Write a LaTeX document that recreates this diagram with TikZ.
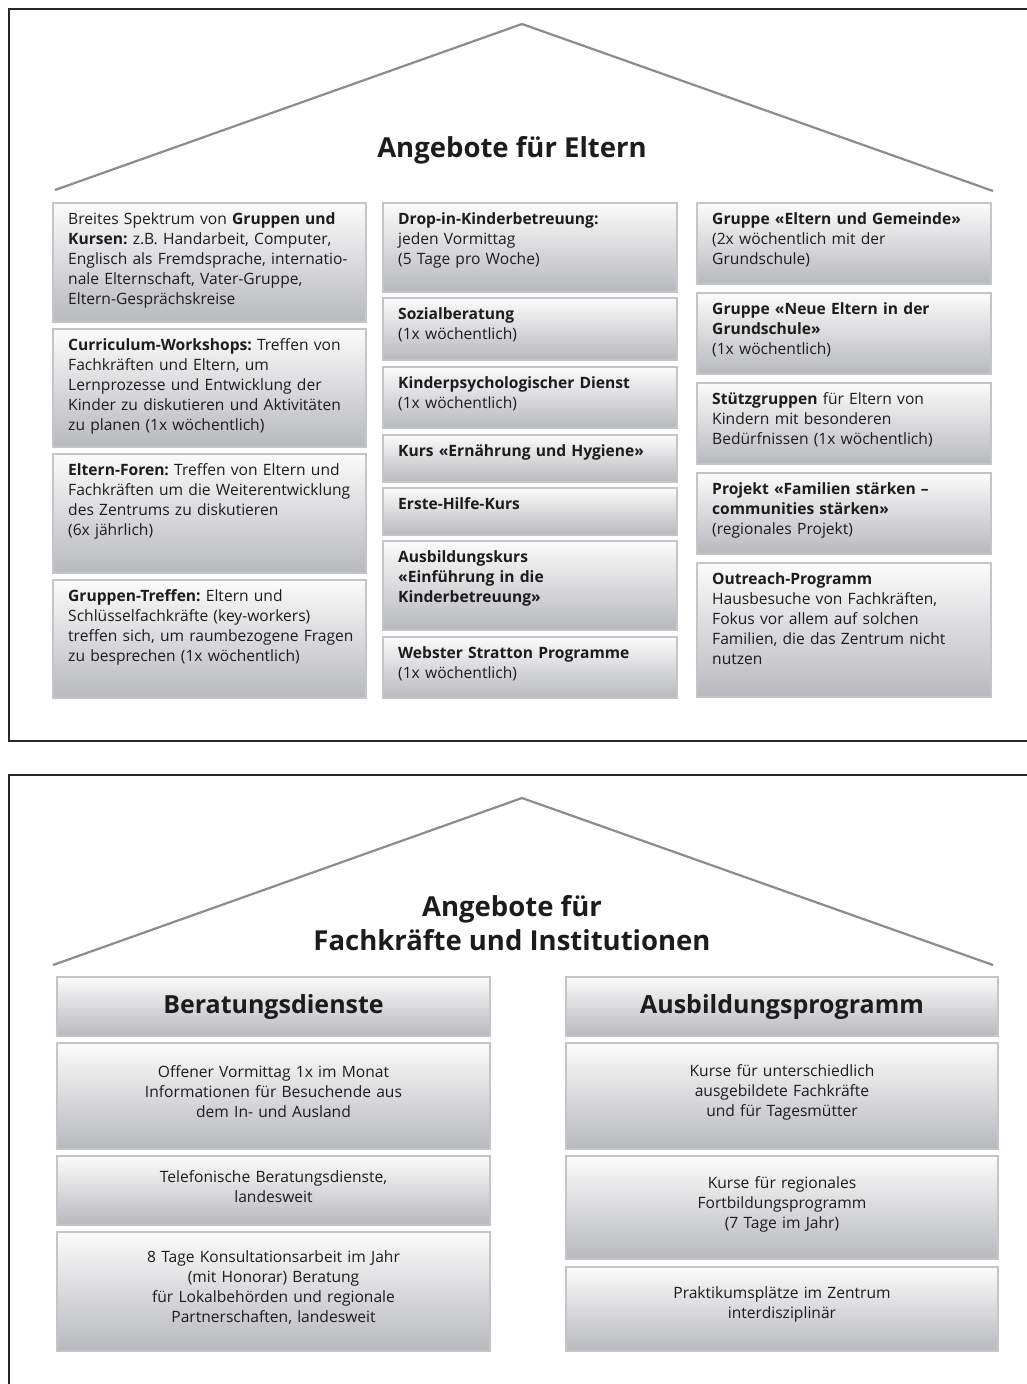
\documentclass[tikz,border=0pt]{standalone}
\usepackage{fontspec}
\setmainfont{Open Sans}
\definecolor{framecol}{RGB}{40,40,40}
\definecolor{roofcol}{RGB}{140,140,142}
\definecolor{boxborder}{RGB}{196,197,200}
\definecolor{boxtop}{RGB}{251,251,251}
\definecolor{boxbot}{RGB}{184,185,189}
\definecolor{txt}{RGB}{30,27,28}
\newcommand\bodyfont{\fontsize{15.6}{20}\selectfont\frenchspacing}
% box with top-left text
\newcommand\lbox[6]{%
  \node[gbox, anchor=north west, minimum width={#4-#2}, minimum height={#5-#3}] (#1) at (#2,#3) {};
  \node[ltext, text width={#4-#2-20}] (#1t) at (#2+15,#3+5) {\rule{0pt}{16pt}#6};}
% box with centred text; #6 = first baseline
\newcommand\cbox[7]{%
  \node[gbox, anchor=north west, minimum width={#4-#2}, minimum height={#5-#3}] (#1) at (#2,#3) {};
  \node[ctext, text width={#4-#2-30}] (#1t) at ({(#2+#4)/2},#6-16) {\rule{0pt}{16pt}#7};}
\begin{document}
\begin{tikzpicture}[x=1pt,y=-1pt,
  gbox/.style={draw=boxborder, line width=1.5pt, top color=boxtop, bottom color=boxbot, inner sep=0pt, outer sep=0pt},
  ltext/.style={anchor=north west, inner sep=0pt, align=left, font=\bodyfont, text=txt},
  ctext/.style={anchor=north, inner sep=0pt, align=center, font=\bodyfont, text=txt},
  frame/.style={draw=framecol, line width=2pt},
  roof/.style={draw=roofcol, line width=2.2pt},
  title/.style={font=\fontsize{27.5}{32}\selectfont\bfseries, text=txt, inner sep=0pt, anchor=base},
  header/.style={font=\fontsize{25}{30}\selectfont\bfseries, text=txt, inner sep=0pt, anchor=base}]
\useasboundingbox (0,0) rectangle (1027,1384);
\fill[white] (0,0) rectangle (1027,1384);

% ---------- top panel ----------
\draw[frame] (9,9) rectangle (1045,741);
\coordinate (r1l) at (55,190);
\coordinate (r1a) at (522,24);
\coordinate (r1r) at (993,191);
\draw[roof] (r1l) -- (r1a) -- (r1r);
\node[title] (t1) at (512,157) {Angebote für Eltern};

% column 1
\lbox{a1}{53}{203}{366}{322}{Breites Spektrum von \textbf{Gruppen und}\\\textbf{Kursen:} z.B. Handarbeit, Computer,\\Englisch als Fremdsprache, internatio-\\nale Elternschaft, Vater-Gruppe,\\Eltern-Gesprächskreise}
\lbox{a2}{53}{329}{366}{447}{\textbf{Curriculum-Workshops:} Treffen von\\Fachkräften und Eltern, um\\Lernprozesse und Entwicklung der\\Kinder zu diskutieren und Aktivitäten\\zu planen (1x wöchentlich)}
\lbox{a3}{53}{454}{366}{573}{\textbf{Eltern-Foren:} Treffen von Eltern und\\Fachkräften um die Weiterentwicklung\\des Zentrums zu diskutieren\\(6x jährlich)}
\lbox{a4}{53}{580}{366}{698}{\textbf{Gruppen-Treffen:} Eltern und\\Schlüsselfachkräfte (key-workers)\\treffen sich, um raumbezogene Fragen\\zu besprechen (1x wöchentlich)}

% column 2
\lbox{b1}{383}{203}{677}{292}{\textbf{Drop-in-Kinderbetreuung:}\\jeden Vormittag\\(5 Tage pro Woche)}
\lbox{b2}{383}{298}{677}{360}{\textbf{Sozialberatung}\\(1x wöchentlich)}
\lbox{b3}{383}{367}{677}{428}{\textbf{Kinderpsychologischer Dienst}\\(1x wöchentlich)}
\lbox{b4}{383}{435}{677}{482}{\textbf{Kurs «Ernährung und Hygiene»}}
\lbox{b5}{383}{488}{677}{535}{\textbf{Erste-Hilfe-Kurs}}
\lbox{b6}{383}{541}{677}{630}{\textbf{Ausbildungskurs}\\\textbf{«Einführung in die}\\\textbf{Kinderbetreuung»}}
\lbox{b7}{383}{637}{677}{698}{\textbf{Webster Stratton Programme}\\(1x wöchentlich)}

% column 3
\lbox{c1}{697}{203}{991}{284}{\textbf{Gruppe «Eltern und Gemeinde»}\\(2x wöchentlich mit der\\Grundschule)}
\lbox{c2}{697}{293}{991}{374}{\textbf{Gruppe «Neue Eltern in der}\\\textbf{Grundschule»}\\(1x wöchentlich)}
\lbox{c3}{697}{383}{991}{464}{\textbf{Stützgruppen} für Eltern von\\Kindern mit besonderen\\Bedürfnissen (1x wöchentlich)}
\lbox{c4}{697}{473}{991}{554}{\textbf{Projekt «Familien stärken –}\\\textbf{communities stärken»}\\(regionales Projekt)}
\lbox{c5}{697}{563}{991}{697}{\textbf{Outreach-Programm}\\Hausbesuche von Fachkräften,\\Fokus vor allem auf solchen\\Familien, die das Zentrum nicht\\nutzen}

% ---------- bottom panel ----------
\draw[frame] (9,775) rectangle (1045,1400);
\coordinate (r2l) at (53,965);
\coordinate (r2a) at (522,798);
\coordinate (r2r) at (993,965);
\draw[roof] (r2l) -- (r2a) -- (r2r);
\node[title] (t2a) at (512,916) {Angebote für};
\node[title] (t2b) at (512,950) {Fachkräfte und Institutionen};

\node[gbox, anchor=north west, minimum width=433, minimum height=59] (hl) at (57,977) {};
\node[header] (hlt) at (273.5,1013) {Beratungsdienste};
\node[gbox, anchor=north west, minimum width=432, minimum height=59] (hr) at (566,977) {};
\node[header] (hrt) at (782,1013) {Ausbildungsprogramm};

\cbox{d1}{57}{1043}{490}{1149}{1077}{Offener Vormittag 1x im Monat\\Informationen für Besuchende aus\\dem In- und Ausland}
\cbox{d2}{57}{1156}{490}{1225}{1182}{Telefonische Beratungsdienste,\\landesweit}
\cbox{d3}{57}{1232}{490}{1351}{1262}{8 Tage Konsultationsarbeit im Jahr\\(mit Honorar) Beratung\\für Lokalbehörden und regionale\\Partnerschaften, landesweit}

\cbox{e1}{566}{1043}{998}{1149}{1076}{Kurse für unterschiedlich\\ausgebildete Fachkräfte\\und für Tagesmütter}
\cbox{e2}{566}{1156}{998}{1259}{1188}{Kurse für regionales\\Fortbildungsprogramm\\(7 Tage im Jahr)}
\cbox{e3}{566}{1267}{998}{1351}{1298}{Praktikumsplätze im Zentrum\\interdisziplinär}
\end{tikzpicture}
\end{document}
